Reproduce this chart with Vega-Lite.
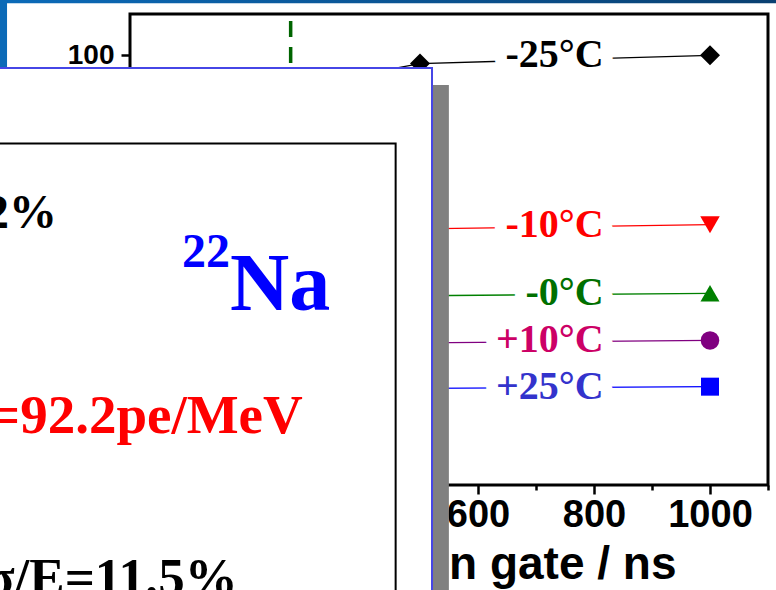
{
  "$schema": "https://vega.github.io/schema/vega-lite/v6.json",
  "width": 638,
  "height": 471,
  "autosize": {"type": "none"},
  "padding": {"left": 130, "top": 14, "right": 8, "bottom": 105},
  "background": "white",
  "config": {
    "font": "Liberation Sans",
    "view": {"stroke": "black", "strokeWidth": 3}
  },
  "data": {
    "values": [
      {"gate": 300, "series": "-25°C", "rly": 96.4},
      {"gate": 500, "series": "-25°C", "rly": 99.0},
      {"gate": 1000, "series": "-25°C", "rly": 100.0},
      {"gate": 500, "series": "-10°C", "rly": 79.0},
      {"gate": 1000, "series": "-10°C", "rly": 79.5},
      {"gate": 500, "series": "-0°C", "rly": 70.9},
      {"gate": 1000, "series": "-0°C", "rly": 71.2},
      {"gate": 500, "series": "+10°C", "rly": 65.2},
      {"gate": 1000, "series": "+10°C", "rly": 65.5},
      {"gate": 500, "series": "+25°C", "rly": 59.7},
      {"gate": 1000, "series": "+25°C", "rly": 59.9}
    ]
  },
  "layer": [
    {
      "data": {"values": [{}]},
      "mark": {"type": "rect", "color": {"gradient": "linear", "x1": 0, "x2": 1, "y1": 0, "y2": 0, "stops": [{"offset": 0, "color": "#0b6dbd"}, {"offset": 1, "color": "#0a3d6c"}]}},
      "encoding": {
        "x": {"datum": -300, "type": "quantitative", "scale": {"domain": [0, 1100], "nice": false, "zero": false}},
        "x2": {"datum": 1200},
        "y": {"datum": 107, "type": "quantitative", "scale": {"domain": [48, 105], "nice": false, "zero": false}},
        "y2": {"datum": 106.3}
      }
    },
    {
      "data": {"values": [{}]},
      "mark": {"type": "rect", "color": "#0b6ab7"},
      "encoding": {
        "x": {"datum": -300, "type": "quantitative", "scale": {"domain": [0, 1100], "nice": false, "zero": false}},
        "x2": {"datum": -212},
        "y": {"datum": 107, "type": "quantitative", "scale": {"domain": [48, 105], "nice": false, "zero": false}},
        "y2": {"datum": 98.4}
      }
    },
    {
      "data": {"values": [{"gate": 277}]},
      "mark": {"type": "rule", "color": "#006400", "strokeWidth": 3.5, "strokeDash": [16, 10], "strokeDashOffset": 19},
      "encoding": {
        "x": {"field": "gate", "type": "quantitative", "scale": {"domain": [0, 1100], "nice": false, "zero": false}}
      }
    },
    {
      "mark": {"type": "line", "strokeWidth": 1.3},
      "encoding": {
        "x": {
          "field": "gate", "type": "quantitative",
          "scale": {"domain": [0, 1100], "nice": false, "zero": false},
          "axis": {
            "values": [0, 100, 200, 300, 400, 500, 600, 700, 800, 900, 1000, 1100],
            "format": "d",
            "labelExpr": "datum.value % 200 == 0 ? datum.label : ''",
            "tickSize": {"condition": {"test": "datum.value % 200 == 0", "value": 9}, "value": 5},
            "tickWidth": 2.5, "tickColor": "black",
            "domain": false, "grid": false,
            "labelFont": "Liberation Sans", "labelFontWeight": "bold", "labelFontSize": 38, "labelColor": "black",
            "labelPadding": 2, "labelFlush": false, "labelOverlap": false,
            "title": "Integration gate / ns",
            "titleFont": "Liberation Sans", "titleFontSize": 46, "titleFontWeight": "bold", "titleColor": "black",
            "titleAlign": "right", "titleX": 546, "titleY": 93, "titleBaseline": "alphabetic"
          }
        },
        "y": {
          "field": "rly", "type": "quantitative",
          "scale": {"domain": [48, 105], "nice": false, "zero": false},
          "axis": {
            "values": [50, 60, 70, 80, 90, 100], "format": "d",
            "labelExpr": "datum.value == 100 ? datum.label : ''",
            "tickSize": 9, "tickWidth": 2.5, "tickColor": "black",
            "domain": false, "grid": false,
            "labelFont": "Liberation Sans", "labelFontWeight": "bold", "labelFontSize": 28, "labelColor": "black",
            "labelPadding": 7, "title": null
          }
        },
        "color": {
          "field": "series", "type": "nominal", "legend": null,
          "scale": {"domain": ["-25°C", "-10°C", "-0°C", "+10°C", "+25°C"], "range": ["#000000", "#ff0000", "#008000", "#800080", "#0000ff"]}
        }
      }
    },
    {
      "mark": {"type": "point", "filled": true, "opacity": 1},
      "encoding": {
        "x": {"field": "gate", "type": "quantitative", "scale": {"domain": [0, 1100], "nice": false, "zero": false}},
        "y": {"field": "rly", "type": "quantitative", "scale": {"domain": [48, 105], "nice": false, "zero": false}, "title": null},
        "color": {
          "field": "series", "type": "nominal", "legend": null,
          "scale": {"domain": ["-25°C", "-10°C", "-0°C", "+10°C", "+25°C"], "range": ["#000000", "#ff0000", "#008000", "#800080", "#0000ff"]}
        },
        "shape": {
          "field": "series", "type": "nominal", "legend": null,
          "scale": {"domain": ["-25°C", "-10°C", "-0°C", "+10°C", "+25°C"], "range": ["diamond", "triangle-down", "triangle-up", "circle", "square"]}
        },
        "size": {
          "field": "series", "type": "nominal", "legend": null,
          "scale": {"domain": ["-25°C", "-10°C", "-0°C", "+10°C", "+25°C"], "range": [400, 324, 324, 225, 196]}
        }
      }
    },
    {
      "transform": [{"filter": "datum.gate == 1000"}],
      "mark": {"type": "text", "align": "right", "baseline": "middle", "font": "Liberation Serif", "fontWeight": "bold", "fontSize": 40, "fill": "white", "stroke": "white", "strokeWidth": 24, "strokeJoin": "round"},
      "encoding": {
        "x": {"datum": 816.7, "type": "quantitative", "scale": {"domain": [0, 1100], "nice": false, "zero": false}},
        "y": {"field": "rly", "type": "quantitative", "scale": {"domain": [48, 105], "nice": false, "zero": false}, "title": null},
        "text": {"field": "series"}
      }
    },
    {
      "transform": [{"filter": "datum.gate == 1000"}],
      "mark": {"type": "text", "align": "right", "baseline": "middle", "font": "Liberation Serif", "fontWeight": "bold", "fontSize": 40},
      "encoding": {
        "x": {"datum": 816.7, "type": "quantitative", "scale": {"domain": [0, 1100], "nice": false, "zero": false}},
        "y": {"field": "rly", "type": "quantitative", "scale": {"domain": [48, 105], "nice": false, "zero": false}, "title": null},
        "text": {"field": "series"},
        "fill": {
          "field": "series", "type": "nominal", "legend": null,
          "scale": {"domain": ["-25°C", "-10°C", "-0°C", "+10°C", "+25°C"], "range": ["#000000", "#ff0000", "#007000", "#cc0066", "#3333cc"]}
        }
      }
    },
    {
      "data": {"values": [{}]},
      "mark": {"type": "rect", "color": "#808080"},
      "encoding": {
        "x": {"datum": -300, "type": "quantitative", "scale": {"domain": [0, 1100], "nice": false, "zero": false}},
        "x2": {"datum": 549.8},
        "y": {"datum": 96.4, "type": "quantitative", "scale": {"domain": [48, 105], "nice": false, "zero": false}},
        "y2": {"datum": 20}
      }
    },
    {
      "data": {"values": [{}]},
      "mark": {"type": "rect", "fill": "white", "stroke": "#4646e6", "strokeWidth": 2},
      "encoding": {
        "x": {"datum": -300, "type": "quantitative", "scale": {"domain": [0, 1100], "nice": false, "zero": false}},
        "x2": {"datum": 520.7},
        "y": {"datum": 98.45, "type": "quantitative", "scale": {"domain": [48, 105], "nice": false, "zero": false}},
        "y2": {"datum": 20}
      }
    },
    {
      "data": {"values": [{}]},
      "mark": {"type": "rect", "fill": "transparent", "stroke": "black", "strokeWidth": 2},
      "encoding": {
        "x": {"datum": -300, "type": "quantitative", "scale": {"domain": [0, 1100], "nice": false, "zero": false}},
        "x2": {"datum": 458},
        "y": {"datum": 89.33, "type": "quantitative", "scale": {"domain": [48, 105], "nice": false, "zero": false}},
        "y2": {"datum": 20}
      }
    },
    {
      "data": {"values": [{}]},
      "mark": {"type": "text", "align": "right", "baseline": "alphabetic", "font": "Liberation Serif", "fontWeight": "bold", "fontSize": 48, "color": "black", "text": "σ/E=12%"},
      "encoding": {
        "x": {"datum": -125.9, "type": "quantitative", "scale": {"domain": [0, 1100], "nice": false, "zero": false}},
        "y": {"datum": 79.1, "type": "quantitative", "scale": {"domain": [48, 105], "nice": false, "zero": false}}
      }
    },
    {
      "data": {"values": [{}]},
      "mark": {"type": "text", "align": "left", "baseline": "alphabetic", "font": "Liberation Serif", "fontWeight": "bold", "fontSize": 48, "color": "#0000ff", "text": "22"},
      "encoding": {
        "x": {"datum": 89.7, "type": "quantitative", "scale": {"domain": [0, 1100], "nice": false, "zero": false}},
        "y": {"datum": 74.4, "type": "quantitative", "scale": {"domain": [48, 105], "nice": false, "zero": false}}
      }
    },
    {
      "data": {"values": [{}]},
      "mark": {"type": "text", "align": "left", "baseline": "alphabetic", "font": "Liberation Serif", "fontWeight": "bold", "fontSize": 82, "color": "#0000ff", "text": "Na"},
      "encoding": {
        "x": {"datum": 172.4, "type": "quantitative", "scale": {"domain": [0, 1100], "nice": false, "zero": false}},
        "y": {"datum": 69.18, "type": "quantitative", "scale": {"domain": [48, 105], "nice": false, "zero": false}}
      }
    },
    {
      "data": {"values": [{}]},
      "mark": {"type": "text", "align": "right", "baseline": "alphabetic", "font": "Liberation Serif", "fontWeight": "bold", "fontSize": 55, "color": "#ff0000", "text": "LY=92.2pe/MeV"},
      "encoding": {
        "x": {"datum": 297.8, "type": "quantitative", "scale": {"domain": [0, 1100], "nice": false, "zero": false}},
        "y": {"datum": 54.25, "type": "quantitative", "scale": {"domain": [48, 105], "nice": false, "zero": false}}
      }
    },
    {
      "data": {"values": [{}]},
      "mark": {"type": "text", "align": "right", "baseline": "alphabetic", "font": "Liberation Serif", "fontWeight": "bold", "fontSize": 53, "color": "black", "text": "σ/E=11.5%"},
      "encoding": {
        "x": {"datum": 185.7, "type": "quantitative", "scale": {"domain": [0, 1100], "nice": false, "zero": false}},
        "y": {"datum": 34.69, "type": "quantitative", "scale": {"domain": [48, 105], "nice": false, "zero": false}}
      }
    }
  ]
}
